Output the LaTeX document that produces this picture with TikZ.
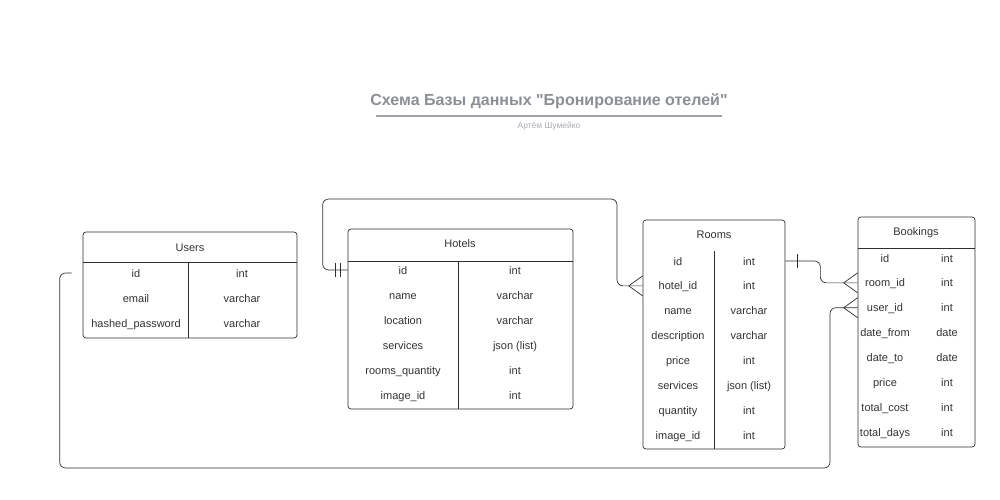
\documentclass[tikz,border=0pt]{standalone}
\usepackage{fontspec}
\setmainfont{Liberation Sans}[Ligatures=TeXOff]
\usetikzlibrary{calc}
\usepackage{xcolor}
\definecolor{erline}{HTML}{2E2E2E}
\definecolor{ertext}{HTML}{333333}
\definecolor{ertitle}{HTML}{8A8E96}
\definecolor{ersub}{HTML}{ABABAB}

\tikzset{
  tbl/.style={draw=erline, rounded corners=3pt, line width=0.7pt, inner sep=0pt},
  cell/.style={text=ertext, font=\fontsize{11}{13}\selectfont, inner sep=1pt,
    text height=9pt, text depth=1pt},
  link/.style={draw=erline, line width=0.7pt, rounded corners=6pt},
  tick/.style={draw=erline, line width=0.7pt},
}
\newcommand{\crowfoot}[1]{%
  \draw[tick] ($(#1)+(-14,0)$) -- ($(#1)+(0,-10)$)
              ($(#1)+(-14,0)$) -- ($(#1)+(0,10)$);}

\begin{document}
\begin{tikzpicture}[x=1pt, y=-1pt]
  \useasboundingbox (0,0) rectangle (1000,500);
  % title
  \node[text=ertitle, font=\fontsize{16}{18}\selectfont\bfseries] (title) at (549,101)
    {Схема Базы данных "Бронирование отелей"};
  \draw[ertitle!80, line width=1.2pt] (376,116) -- (722,116);
  \node[text=ersub, font=\fontsize{8.5}{10}\selectfont] (author) at (549,126) {Артём Шумейко};

  % Users
  \node[tbl, minimum width=214pt, minimum height=106pt] (users) at (190,285) {};
  \node[cell] (users-h) at (190,247) {Users};
  \draw[tick] (83,262) -- (297,262) (188,262) -- (188,338);
  \foreach \fld/\typ [count=\i] in {id/int, email/varchar, hashed\_password/varchar} {
    \node[cell] (u\i) at (136,248+25*\i) {\fld};
    \node[cell] (ut\i) at (242,248+25*\i) {\typ};
  }

  % Hotels
  \node[tbl, minimum width=225pt, minimum height=180pt] (hotels) at (460.5,319) {};
  \node[cell] (hotels-h) at (460,243) {Hotels};
  \draw[tick] (348,261) -- (573,261) (458,261) -- (458,409);
  \foreach \fld/\typ [count=\i] in {id/int, name/varchar, location/varchar,
      services/json (list), rooms\_quantity/int, image\_id/int} {
    \node[cell] (h\i) at (403,245+25*\i) {\fld};
    \node[cell] (ht\i) at (515,245+25*\i) {\typ};
  }

  % Rooms
  \node[tbl, minimum width=142pt, minimum height=229pt] (rooms) at (714,334.5) {};
  \node[cell] (rooms-h) at (714,234) {Rooms};
  \draw[tick] (714,251) -- (714,449);
  \foreach \fld/\typ [count=\i] in {id/int, hotel\_id/int, name/varchar, description/varchar,
      price/int, services/json (list), quantity/int, image\_id/int} {
    \node[cell] (r\i) at (678,236.14+24.86*\i) {\fld};
    \node[cell] (rt\i) at (749,236.14+24.86*\i) {\typ};
  }

  % Bookings
  \node[tbl, minimum width=117pt, minimum height=230pt] (bookings) at (916.5,332) {};
  \node[cell] (bookings-h) at (916,231) {Bookings};
  \draw[tick] (858,248) -- (975,248);
  \foreach \fld/\typ [count=\i] in {id/int, room\_id/int, user\_id/int, date\_from/date,
      date\_to/date, price/int, total\_cost/int, total\_days/int} {
    \node[cell] (b\i) at (885,233.14+24.86*\i) {\fld};
    \node[cell] (bt\i) at (947,233.14+24.86*\i) {\typ};
  }

  % relations
  \coordinate (hid) at (hotels.west |- h1);
  \coordinate (rhid) at (rooms.west |- r2);
  \coordinate (rid) at (rooms.east |- r1);
  \coordinate (broom) at (bookings.west |- b2);
  \coordinate (uid) at ([xshift=-11pt]users.west |- u1);
  \coordinate (buser) at (bookings.west |- b3);

  \draw[link] (hid) -- ++(-25,0) |- (617,199) |- (rhid);
  \draw[tick] ($(hid)+(-12,-7)$) -- ++(0,14) ($(hid)+(-7,-7)$) -- ++(0,14);
  \crowfoot{rhid}

  \draw[link] (rid) -- ++(35,0) |- (broom);
  \draw[tick] ($(rid)+(12,-7)$) -- ++(0,14);
  \crowfoot{broom}

  \draw[link] (uid) -- ++(-12,0) |- (830,468) |- (buser);
  \crowfoot{buser}
\end{tikzpicture}
\end{document}
